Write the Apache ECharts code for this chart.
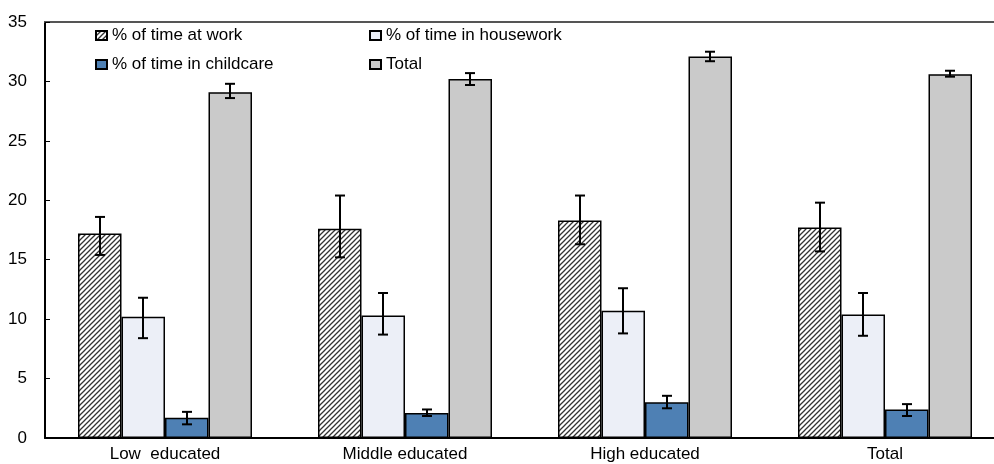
<!DOCTYPE html>
<html>
<head>
<meta charset="utf-8">
<script src="https://cdn.jsdelivr.net/npm/echarts@6/dist/echarts.min.js"></script>
<style>html,body{margin:0;padding:0;background:#fff;overflow:hidden;width:994px;height:464px}#c{width:1005px;height:464px}</style>
</head>
<body>
<div id="c"></div>
<script>
const categories = ['Low  educated', 'Middle educated', 'High educated', 'Total'];
const seriesNames = ['% of time at work', '% of time in housework', '% of time in childcare', 'Total'];
const work = [17.2, 17.6, 18.3, 17.7];
const housework = [10.2, 10.3, 10.7, 10.4];
const childcare = [1.7, 2.1, 3.0, 2.4];
const total = [29.1, 30.2, 32.1, 30.6];
const workLo = [15.4, 15.2, 16.3, 15.7], workHi = [18.6, 20.4, 20.4, 19.8];
const houseLo = [8.4, 8.7, 8.8, 8.6], houseHi = [11.8, 12.2, 12.6, 12.2];
const childLo = [1.15, 1.85, 2.5, 1.85], childHi = [2.2, 2.4, 3.55, 2.85];
const totalLo = [28.6, 29.7, 31.7, 30.4], totalHi = [29.8, 30.7, 32.5, 30.9];
const yTicks = { min: 0, max: 35, interval: 5 };

const FONT = '"Liberation Sans", Arial, sans-serif';
const FS = 17;
const gapRatio = 0.275;

// hatch pattern
const tile = document.createElement('canvas');
tile.width = 5; tile.height = 5;
const g = tile.getContext('2d');
g.fillStyle = '#fff'; g.fillRect(0, 0, 5, 5);
g.strokeStyle = '#333'; g.lineWidth = 1.3;
g.beginPath();
g.moveTo(-1, 6); g.lineTo(6, -1);
g.moveTo(-1, 1); g.lineTo(1, -1);
g.moveTo(4, 6); g.lineTo(6, 4);
g.stroke();

const colors = [{ image: tile, repeat: 'repeat' }, '#ECEFF7', '#4E80B4', '#CACACA'];
const values = [work, housework, childcare, total];
const los = [workLo, houseLo, childLo, totalLo];
const his = [workHi, houseHi, childHi, totalHi];

const errData = [];
for (let s = 0; s < 4; s++) {
  for (let c = 0; c < categories.length; c++) {
    errData.push([c, s, los[s][c], his[s][c]]);
  }
}

const barSeries = seriesNames.map((n, i) => ({
  name: n,
  type: 'bar',
  data: values[i],
  barGap: '0%',
  barCategoryGap: (gapRatio * 100) + '%',
  itemStyle: { color: colors[i], borderColor: '#000', borderWidth: 1.5 },
  emphasis: { disabled: true },
  animation: false
}));

const errSeries = {
  type: 'custom',
  name: 'err',
  data: errData,
  encode: { x: 0, y: [2, 3] },
  z: 10,
  animation: false,
  renderItem(params, api) {
    const c = api.value(0), s = api.value(1);
    const lo = api.value(2), hi = api.value(3);
    const catW = api.size([1, 0])[0];
    const bw = catW * (1 - gapRatio) / 4;
    const x = Math.round(api.coord([c, 0])[0] - 2 * bw + (s + 0.5) * bw);
    const y1 = api.coord([c, lo])[1], y2 = api.coord([c, hi])[1];
    const hw = 5;
    const st = { stroke: '#000', lineWidth: 2 };
    return {
      type: 'group',
      children: [
        { type: 'line', shape: { x1: x, y1: y1, x2: x, y2: y2 }, style: st },
        { type: 'line', shape: { x1: x - hw, y1: y1, x2: x + hw, y2: y1 }, style: st },
        { type: 'line', shape: { x1: x - hw, y1: y2, x2: x + hw, y2: y2 }, style: st }
      ]
    };
  }
};

const legendCommon = {
  orient: 'vertical',
  top: 27,
  padding: 0,
  itemWidth: 11,
  itemHeight: 9,
  itemGap: 12,
  icon: 'rect',
  selectedMode: false,
  textStyle: { fontFamily: FONT, fontSize: FS, color: '#000', lineHeight: 16 }
};

const chart = echarts.init(document.getElementById('c'), null, { renderer: 'canvas' });
chart.setOption({
  backgroundColor: '#fff',
  animation: false,
  textStyle: { fontFamily: FONT },
  legend: [
    Object.assign({}, legendCommon, { left: 95, data: [seriesNames[0], seriesNames[2]] }),
    Object.assign({}, legendCommon, { left: 369, data: [seriesNames[1], seriesNames[3]] })
  ],
  grid: { left: 45, top: 22, right: 0, bottom: 26, containLabel: false, outerBoundsMode: 'none' },
  xAxis: [
    {
      type: 'category',
      data: categories,
      axisLine: { lineStyle: { color: '#000', width: 2 } },
      axisTick: { show: false },
      axisLabel: { color: '#000', fontFamily: FONT, fontSize: FS, margin: 8 }
    },
    {
      type: 'category',
      position: 'top',
      data: categories,
      axisLine: { show: true, lineStyle: { color: '#555', width: 2 } },
      axisTick: { show: false },
      axisLabel: { show: false }
    }
  ],
  yAxis: {
    type: 'value',
    min: yTicks.min, max: yTicks.max, interval: yTicks.interval,
    splitLine: { show: false },
    axisLine: { show: true, lineStyle: { color: '#000', width: 2 } },
    axisTick: { show: true, inside: true, length: 5, lineStyle: { color: '#000', width: 1 } },
    axisLabel: { color: '#000', fontFamily: FONT, fontSize: FS, margin: 18 }
  },
  series: barSeries.concat([errSeries])
});
</script>
</body>
</html>
